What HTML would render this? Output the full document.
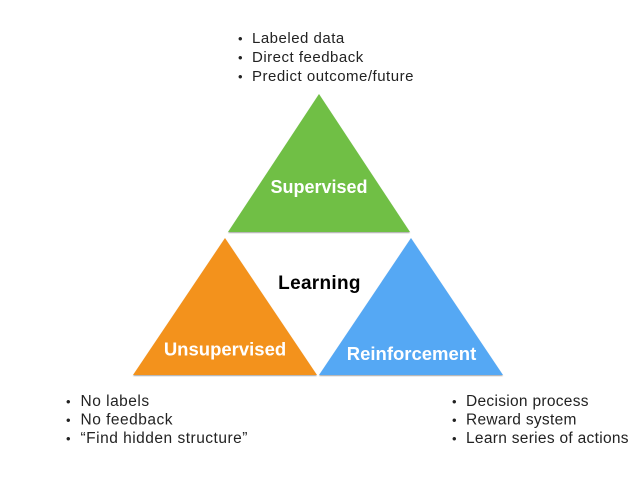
<!DOCTYPE html>
<html>
<head>
<meta charset="utf-8">
<style>
  html,body{margin:0;padding:0;background:#fff;}
  body{width:638px;height:479px;overflow:hidden;}
  svg{display:block;}
  .b{font-family:"Liberation Sans",Arial,sans-serif;font-size:15px;fill:#222;letter-spacing:0.5px;}
  .d{font-family:"Liberation Sans",Arial,sans-serif;font-size:13px;fill:#222;}
  .lbl{font-family:"Liberation Sans",Arial,sans-serif;font-weight:bold;fill:#fff;}
</style>
</head>
<body>
<svg width="638" height="479" viewBox="0 0 638 479" xmlns="http://www.w3.org/2000/svg">
  <defs>
    <filter id="sh" x="-10%" y="-10%" width="120%" height="120%">
      <feDropShadow dx="0" dy="1" stdDeviation="0.6" flood-color="#000" flood-opacity="0.35"/>
    </filter>
  </defs>

  <!-- triangles -->
  <polygon points="319,94 228,232 410,232" fill="#6fbf44" filter="url(#sh)"/>
  <polygon points="225,238 133,375 317,375" fill="#f3921f" filter="url(#sh)"/>
  <polygon points="411,238 319,375 503,375" fill="#54a8f4" filter="url(#sh)"/>

  <!-- labels -->
  <text class="lbl" x="319" y="193" font-size="18" text-anchor="middle">Supervised</text>
  <text class="lbl" x="225" y="355.5" font-size="18.5" text-anchor="middle">Unsupervised</text>
  <text class="lbl" x="411.5" y="360" font-size="18.5" text-anchor="middle">Reinforcement</text>
  <text x="319.5" y="289" font-family="'Liberation Sans',Arial,sans-serif" font-weight="bold" font-size="19" fill="#000" text-anchor="middle" letter-spacing="0.3">Learning</text>

  <!-- top list -->
  <text class="d" x="238" y="43">•</text><text class="b" x="252" y="43">Labeled data</text>
  <text class="d" x="238" y="62">•</text><text class="b" x="252" y="62">Direct feedback</text>
  <text class="d" x="238" y="81">•</text><text class="b" x="252" y="81">Predict outcome/future</text>

  <!-- bottom-left list -->
  <text class="d" x="66" y="406">•</text><text class="b" x="80.5" y="406" style="font-size:15.5px">No labels</text>
  <text class="d" x="66" y="424.5">•</text><text class="b" x="80.5" y="424.5" style="font-size:15.5px">No feedback</text>
  <text class="d" x="66" y="443">•</text><text class="b" x="80.5" y="443" style="font-size:15.5px">“Find hidden structure”</text>

  <!-- bottom-right list -->
  <text class="d" x="452" y="406">•</text><text class="b" x="466" y="406" style="font-size:15.5px;letter-spacing:0.3px">Decision process</text>
  <text class="d" x="452" y="424.5">•</text><text class="b" x="466" y="424.5" style="font-size:15.5px;letter-spacing:0.3px">Reward system</text>
  <text class="d" x="452" y="443">•</text><text class="b" x="466" y="443" style="font-size:15.5px;letter-spacing:0.3px">Learn series of actions</text>
</svg>
</body>
</html>
